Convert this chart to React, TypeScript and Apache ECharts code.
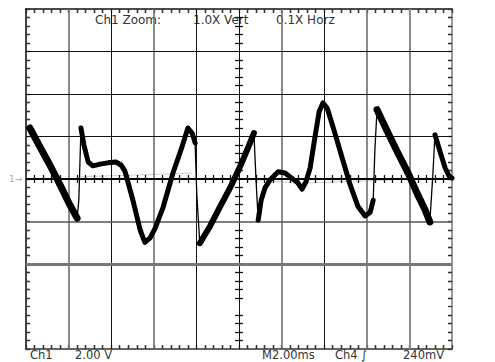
import React, { useEffect, useRef } from "react";
import * as echarts from "echarts";

// Trace values, in screen divisions (x: 0..10, y: -4..4 around the ground marker)
const seg1 = [[0.09, 1.2], [0.33, 0.75], [0.56, 0.33], [0.8, -0.14], [1.03, -0.61], [1.2, -0.92]];
const edge1 = [[1.2, -0.92], [1.24, -0.5], [1.29, 1.2]];
const seg2 = [
  [1.29, 1.2], [1.36, 0.8], [1.46, 0.4], [1.57, 0.31], [1.74, 0.35], [1.92, 0.38], [2.11, 0.4],
  [2.23, 0.33], [2.32, 0.19], [2.51, -0.5], [2.68, -1.2], [2.79, -1.49], [2.91, -1.39], [3.03, -1.16],
  [3.22, -0.66], [3.45, 0.14], [3.66, 0.75], [3.8, 1.2], [3.9, 1.08], [3.97, 0.85],
];
const edge2 = [[3.97, 0.85], [4.01, -0.38], [4.08, -1.51]];
const seg3 = [[4.08, -1.51], [4.32, -1.11], [4.55, -0.66], [4.79, -0.21], [5.02, 0.28], [5.21, 0.73], [5.35, 1.08]];
const edge3 = [[5.35, 1.08], [5.4, -0.02], [5.45, -0.97]];
const seg4 = [
  [5.45, -0.97], [5.52, -0.5], [5.61, -0.21], [5.73, -0.02], [5.92, 0.17], [6.08, 0.14], [6.24, 0.02],
  [6.38, -0.09], [6.48, -0.24], [6.57, -0.07], [6.67, 0.26], [6.78, 0.97], [6.88, 1.58], [6.97, 1.79],
  [7.07, 1.67], [7.25, 1.08], [7.42, 0.5], [7.61, -0.14], [7.79, -0.64], [7.96, -0.87], [8.08, -0.78],
  [8.15, -0.5],
];
const edge4 = [[8.15, -0.5], [8.19, 0.68], [8.24, 1.63]];
const seg5 = [[8.24, 1.63], [8.5, 1.08], [8.73, 0.61], [8.97, 0.14], [9.2, -0.38], [9.37, -0.73], [9.48, -1.01]];
const edge5 = [[9.48, -1.01], [9.55, 0.09], [9.6, 1.04]];
const seg6 = [[9.6, 1.04], [9.72, 0.64], [9.84, 0.26], [9.93, 0.07], [10.0, 0.02]];
const ghost1 = [[1.25, 0.05], [3.9, 0.14]];
const ghost2 = [[5.0, 0.02], [6.4, -0.1], [10.0, 0.03]];

const vGrid = [1, 2, 3, 4, 5, 6, 7, 8, 9];
const hGrid = [3, 2, 1, 0, -1, -2];

const topTexts = ["Ch1 Zoom:", "1.0X Vert", "0.1X Horz"];
const bottomTexts = ["Ch1", "2.00 V", "M2.00ms", "Ch4 \u222B", "240mV"];

export default function App() {
  const ref = useRef<HTMLDivElement>(null);
  useEffect(() => {
    if (!ref.current) return;
    const chart = echarts.init(ref.current, undefined, { renderer: "svg" });
    const grayV = new Set([1, 3, 6, 8, 9]);
    const vLines = vGrid.map((v) => ({
      xAxis: v,
      lineStyle: grayV.has(v)
        ? { color: v === 9 ? "#8a8a8a" : "#707070", width: v === 9 ? 2 : 1.6, type: "solid" }
        : { color: "#111", width: 1, type: "solid" },
    }));
    const hLines = hGrid.map((h) => ({
      yAxis: h,
      lineStyle:
        h === 0
          ? { color: "#000", width: 2, type: "solid" }
          : h === -1
          ? { color: "#555", width: 1.5, type: "solid" }
          : h === -2
          ? { color: "#777", width: 3, type: "solid" }
          : { color: "#111", width: 1, type: "solid" },
    }));

    // graticule tick marks: 5 per division, on the border and on the centre cross
    const tx = 4 / 42.6;
    const ty = 4 / 42.5;
    const borderTicks: any[] = [];
    const centerTicks: any[] = [];
    for (let i = 1; i < 50; i++) {
      if (i % 5 === 0) continue;
      const x = i / 5;
      borderTicks.push([{ coord: [x, 4] }, { coord: [x, 4 - ty] }]);
      borderTicks.push([{ coord: [x, -4] }, { coord: [x, -4 + ty] }]);
      centerTicks.push([{ coord: [x, -ty] }, { coord: [x, ty] }]);
    }
    for (let j = -19; j < 20; j++) {
      if (j % 5 === 0) continue;
      const y = j / 5;
      borderTicks.push([{ coord: [0, y] }, { coord: [tx, y] }]);
      borderTicks.push([{ coord: [10, y] }, { coord: [10 - tx, y] }]);
      centerTicks.push([{ coord: [5 - tx, y] }, { coord: [5 + tx, y] }]);
    }

    const rect = { left: 26, right: 43, top: 9, bottom: 13 };
    const ax = (extra: any, lineColor: string, lineWidth: number) => ({
      type: "value",
      interval: 1,
      axisLine: { show: true, onZero: false, lineStyle: { color: lineColor, width: lineWidth } },
      axisTick: { show: true, inside: true, length: 4, lineStyle: { color: "#333", width: 1.3 } },
      minorTick: { show: true, splitNumber: 5, length: 4, lineStyle: { color: "#333", width: 1.3 } },
      axisLabel: { show: false },
      splitLine: { show: false },
      ...extra,
    });

    const traceSeries = (data: number[][], width: number) => ({
      type: "line",
      xAxisIndex: 0,
      yAxisIndex: 0,
      data,
      symbol: "none",
      z: 5,
      lineStyle: { color: "#000", width, join: "round", cap: "round" },
    });

    chart.setOption({
      animation: false,
      backgroundColor: "#fff",
      grid: [{ ...rect, show: false }],
      xAxis: [
        ax({ min: 0, max: 10, position: "bottom" }, "#333", 1.5),
        ax({ min: 0, max: 10, position: "top" }, "#111", 1.5),
      ],
      yAxis: [
        ax({ min: -4, max: 4, position: "left" }, "#444", 2),
        ax({ min: -4, max: 4, position: "right" }, "#777", 1.5),
      ],
      series: [
        {
          type: "line",
          xAxisIndex: 0,
          yAxisIndex: 0,
          data: [],
          z: 1,
          markLine: {
            symbol: "none",
            label: { show: false },
            data: [...vLines, ...hLines],
          },
        },
        {
          type: "line",
          xAxisIndex: 0,
          yAxisIndex: 0,
          data: [],
          z: 3,
          markLine: {
            symbol: "none",
            label: { show: false },
            lineStyle: { color: "#333", width: 1.3, type: "solid" },
            data: borderTicks,
          },
        },
        {
          type: "line",
          xAxisIndex: 0,
          yAxisIndex: 0,
          data: [],
          z: 3,
          markLine: {
            symbol: "none",
            label: { show: false },
            lineStyle: { color: "#111", width: 1.3, type: "solid" },
            data: centerTicks,
          },
        },
        {
          type: "line",
          xAxisIndex: 0,
          yAxisIndex: 0,
          data: ghost1,
          symbol: "none",
          z: 2,
          lineStyle: { color: "#d0d0d0", width: 1 },
        },
        {
          type: "line",
          xAxisIndex: 0,
          yAxisIndex: 0,
          data: ghost2,
          symbol: "none",
          z: 2,
          lineStyle: { color: "#d0d0d0", width: 1 },
        },
        traceSeries(seg1, 7),
        traceSeries(edge1, 1.3),
        traceSeries(seg2, 5),
        traceSeries(edge2, 1.3),
        traceSeries(seg3, 6),
        traceSeries(edge3, 1.3),
        traceSeries(seg4, 5),
        traceSeries(edge4, 1.3),
        traceSeries(seg5, 7),
        traceSeries(edge5, 1.3),
        traceSeries(seg6, 5),
      ],
      graphic: [
        { type: "text", left: 95, top: 14, style: { text: topTexts[0], fill: "#333", font: "12px 'DejaVu Sans'" } },
        { type: "text", left: 193, top: 14, style: { text: topTexts[1], fill: "#333", font: "12px 'DejaVu Sans'" } },
        { type: "text", left: 276, top: 14, style: { text: topTexts[2], fill: "#333", font: "12px 'DejaVu Sans'" } },
        { type: "text", left: 30, top: 349, style: { text: bottomTexts[0], fill: "#333", font: "11.5px 'DejaVu Sans'" } },
        { type: "text", left: 75, top: 349, style: { text: bottomTexts[1], fill: "#333", font: "11.5px 'DejaVu Sans'" } },
        { type: "text", left: 262, top: 349, style: { text: bottomTexts[2], fill: "#333", font: "11.5px 'DejaVu Sans'" } },
        { type: "text", left: 335, top: 349, style: { text: bottomTexts[3], fill: "#333", font: "11.5px 'DejaVu Sans'" } },
        { type: "text", left: 403, top: 349, style: { text: bottomTexts[4], fill: "#333", font: "11.5px 'DejaVu Sans'" } },
        { type: "text", left: 9, top: 174, style: { text: "1\u2192", fill: "#aaa", font: "9px 'DejaVu Sans'" } },
      ],
    });
    return () => chart.dispose();
  }, []);
  return (
    <div
      ref={ref}
      style={{ position: "fixed", left: 0, top: 0, width: 495, height: 362, background: "#fff" }}
    />
  );
}
